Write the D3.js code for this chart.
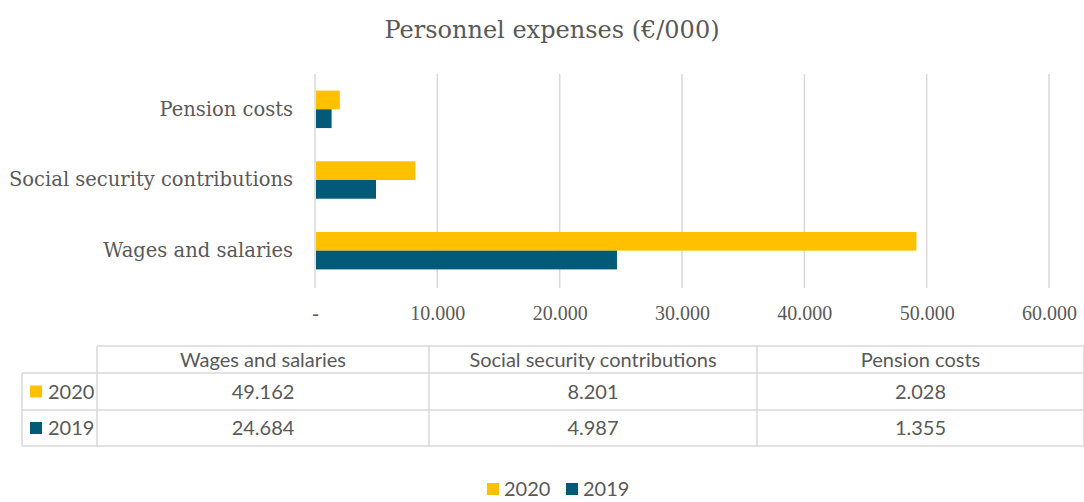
<!DOCTYPE html>
<html lang="en">
<head>
<meta charset="UTF-8">
<title>Personnel expenses</title>
<script src="https://cdn.jsdelivr.net/npm/d3@7"></script>
<style>
    body{ margin:0; background:#fff; }
    svg{ display:block; }
    .serif{ font-family: "DejaVu Serif", "Liberation Serif", serif; fill:#595959; }
    .tick-serif{ font-family: "Liberation Serif", serif; fill:#595959; }
    .sans{ font-family: "Lato", "Open Sans", sans-serif; fill:#595959; }
    .grid line{ stroke:#d9d9d9; stroke-width:1.5px; }
    .tbl line{ stroke:#d9d9d9; stroke-width:1.5px; }
</style>
</head>
<body>
<script>
    // data
    const categories = ["Wages and salaries", "Social security contributions", "Pension costs"];
    const series = ["2020", "2019"];
    const values2020 = [49162, 8201, 2028];
    const values2019 = [24684, 4987, 1355];
    const xTicks = [0, 10000, 20000, 30000, 40000, 50000, 60000];
    const colors = ["#FFC000", "#005A78"];

    const width = 1084, height = 502;
    const svg = d3.select("body").append("svg")
        .attr("width", width).attr("height", height);

    const loc = d3.formatLocale({decimal: ",", thousands: ".", grouping: [3], currency: ["€", ""]});
    const fmt = loc.format(",d");
    const tickFmt = d => d === 0 ? "-" : fmt(d);

    // title
    svg.append("text").attr("class", "serif")
        .attr("x", 552).attr("y", 38)
        .attr("text-anchor", "middle")
        .style("font-size", "24px")
        .text("Personnel expenses (€/000)");

    // scales
    const plot = {left: 315, right: 1049, top: 74, bottom: 286};
    const x = d3.scaleLinear().domain([0, 60000]).range([plot.left, plot.right]);
    const y = d3.scaleBand()
        .domain(categories.slice().reverse())
        .range([plot.top, plot.bottom])
        .paddingInner(0.47).paddingOuter(0.235);
    const ySub = d3.scaleBand().domain(series).range([0, y.bandwidth()]);

    // gridlines
    svg.append("g").attr("class", "grid")
        .selectAll("line").data(xTicks).enter().append("line")
        .attr("x1", d => x(d)).attr("x2", d => x(d))
        .attr("y1", plot.top).attr("y2", plot.bottom + 2);

    // bars
    const rows = categories.map((c, i) => ({cat: c, vals: [values2020[i], values2019[i]]}));
    const grp = svg.append("g").selectAll("g").data(rows).enter().append("g")
        .attr("transform", d => `translate(0,${y(d.cat)})`);
    grp.selectAll("rect")
        .data(d => d.vals.map((v, j) => ({s: series[j], v: v, c: colors[j]})))
        .enter().append("rect")
        .attr("x", x(0) + 1)
        .attr("y", d => ySub(d.s))
        .attr("width", d => x(d.v) - x(0) - 1)
        .attr("height", ySub.bandwidth())
        .attr("fill", d => d.c);

    // category labels
    const yAxis = d3.axisLeft(y).tickSize(0).tickPadding(22);
    const ya = svg.append("g").attr("transform", `translate(${plot.left},0)`).call(yAxis);
    ya.select(".domain").remove();
    ya.selectAll("text").attr("class", "serif").attr("fill", null)
        .style("font-size", "19.5px").attr("dy", "0.32em");

    // x tick labels
    const xAxis = d3.axisBottom(x).tickValues(xTicks).tickFormat(tickFmt).tickSize(0).tickPadding(20);
    const xa = svg.append("g").attr("transform", `translate(0,${plot.bottom})`).call(xAxis);
    xa.select(".domain").remove();
    xa.selectAll("text").attr("class", "tick-serif").attr("fill", null)
        .style("font-size", "20px");

    // data table
    const colX = [22, 97, 429, 757, 1084];
    const rowY = [346, 373, 410, 446];
    const tbl = svg.append("g").attr("class", "tbl");
    // horizontal lines
    tbl.append("line").attr("x1", colX[1]).attr("x2", colX[4]).attr("y1", rowY[0]).attr("y2", rowY[0]);
    rowY.slice(1).forEach(yy => {
        tbl.append("line").attr("x1", colX[0]).attr("x2", colX[4]).attr("y1", yy).attr("y2", yy);
    });
    // vertical lines
    tbl.append("line").attr("x1", colX[0]).attr("x2", colX[0]).attr("y1", rowY[1]).attr("y2", rowY[3]);
    colX.slice(1).forEach(xx => {
        tbl.append("line").attr("x1", xx).attr("x2", xx).attr("y1", rowY[0]).attr("y2", rowY[3]);
    });
    // header
    categories.forEach((c, i) => {
        tbl.append("text").attr("class", "sans")
            .attr("x", (colX[i + 1] + colX[i + 2]) / 2)
            .attr("y", (rowY[0] + rowY[1]) / 2)
            .attr("dy", "0.35em").attr("text-anchor", "middle")
            .style("font-size", "20px").text(c);
    });
    // rows
    [values2020, values2019].forEach((vals, r) => {
        const cy = (rowY[r + 1] + rowY[r + 2]) / 2;
        tbl.append("rect").attr("x", 30).attr("y", cy - 6)
            .attr("width", 12).attr("height", 12).attr("fill", colors[r]);
        tbl.append("text").attr("class", "sans")
            .attr("x", 48).attr("y", cy).attr("dy", "0.35em")
            .style("font-size", "20px").text(series[r]);
        vals.forEach((v, i) => {
            tbl.append("text").attr("class", "sans")
                .attr("x", (colX[i + 1] + colX[i + 2]) / 2)
                .attr("y", cy).attr("dy", "0.35em").attr("text-anchor", "middle")
                .style("font-size", "20px").text(fmt(v));
        });
    });

    // legend
    const legend = svg.append("g").attr("transform", "translate(487,489)")
        .selectAll("g").data(series).enter().append("g")
        .attr("transform", (d, i) => `translate(${i * 79},0)`);
    legend.append("rect").attr("y", -6).attr("width", 12).attr("height", 12)
        .attr("fill", (d, i) => colors[i]);
    legend.append("text").attr("class", "sans")
        .attr("x", 17).attr("dy", "0.35em")
        .style("font-size", "20px").text(d => d);
</script>
</body>
</html>
